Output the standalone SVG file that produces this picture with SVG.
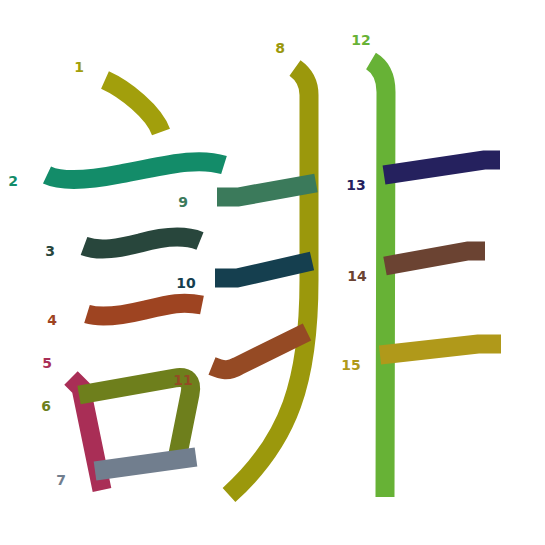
<svg xmlns="http://www.w3.org/2000/svg" width="545" height="545" viewBox="0 0 545 545">
<style>
.s{fill:none;stroke-width:19;stroke-linecap:butt;stroke-linejoin:miter}
.n{font-family:"DejaVu Sans",sans-serif;font-size:14px;font-weight:bold;text-anchor:middle}
</style>
<rect width="545" height="545" fill="#ffffff"/>
<g id="strokes">
<g id="s1"><path class="s" stroke="#a29f0c" d="M105,80 C125,89 154,112 161,132"/></g>
<g id="s2"><path class="s" stroke="#138c69" d="M47,175 C62,182 90,180 120,174 C160,167 195,156 224,165"/></g>
<g id="s3"><path class="s" stroke="#28463c" d="M84,246 C100,252 120,248 140,243 C165,236 185,235 200,241"/></g>
<g id="s4"><path class="s" stroke="#9e4421" d="M87,314 C100,318 120,316 145,310 C170,304 182,301 202,305"/></g>
<g id="s5"><path class="s" stroke="#a92e56" d="M71,378 L81,388 L102,490"/></g>
<g id="s6"><path class="s" stroke="#6e7f1c" d="M79,395 L175,378 Q194,375 190,394 L176,464"/></g>
<g id="s7"><path class="s" stroke="#717e8e" d="M95,471 L196,457"/></g>
<g id="s8"><path class="s" stroke="#9b980c" stroke-width="20" d="M295,68 Q309,78 309,95 L309,280 C309,380 290,440 229,495"/></g>
<g id="s9"><path class="s" stroke="#3b7a5b" d="M217,197 L238,197 L316,183"/></g>
<g id="s10"><path class="s" stroke="#153f4f" d="M215,278 L237,278 L312,261"/></g>
<g id="s11"><path class="s" stroke="#954a24" d="M212,366 C222,370 228,372 238,366 L307,332"/></g>
<g id="s12"><path class="s" stroke="#67b236" stroke-width="20" d="M371,61 Q386,70 386,92 L385,497"/></g>
<g id="s13"><path class="s" stroke="#25215e" d="M384,175 L484,160 L500,160"/></g>
<g id="s14"><path class="s" stroke="#6b4332" d="M385,266 L468,251 L485,251"/></g>
<g id="s15"><path class="s" stroke="#b0991a" d="M380,355 L478,344 L501,344"/></g>
</g>
<g id="labels">
<text class="n" x="79" y="72" fill="#a29f0c">1</text>
<text class="n" x="13" y="186" fill="#138c69">2</text>
<text class="n" x="50" y="256" fill="#28463c">3</text>
<text class="n" x="52" y="325" fill="#9e4421">4</text>
<text class="n" x="47" y="368" fill="#a92e56">5</text>
<text class="n" x="46" y="411" fill="#6e7f1c">6</text>
<text class="n" x="61" y="485" fill="#717e8e">7</text>
<text class="n" x="280" y="53" fill="#9b980c">8</text>
<text class="n" x="183" y="207" fill="#3b7a5b">9</text>
<text class="n" x="186" y="288" fill="#153f4f">10</text>
<text class="n" x="183" y="385" fill="#954a24">11</text>
<text class="n" x="361" y="45" fill="#67b236">12</text>
<text class="n" x="356" y="190" fill="#25215e">13</text>
<text class="n" x="357" y="281" fill="#6b4332">14</text>
<text class="n" x="351" y="370" fill="#b0991a">15</text>
</g>
</svg>
